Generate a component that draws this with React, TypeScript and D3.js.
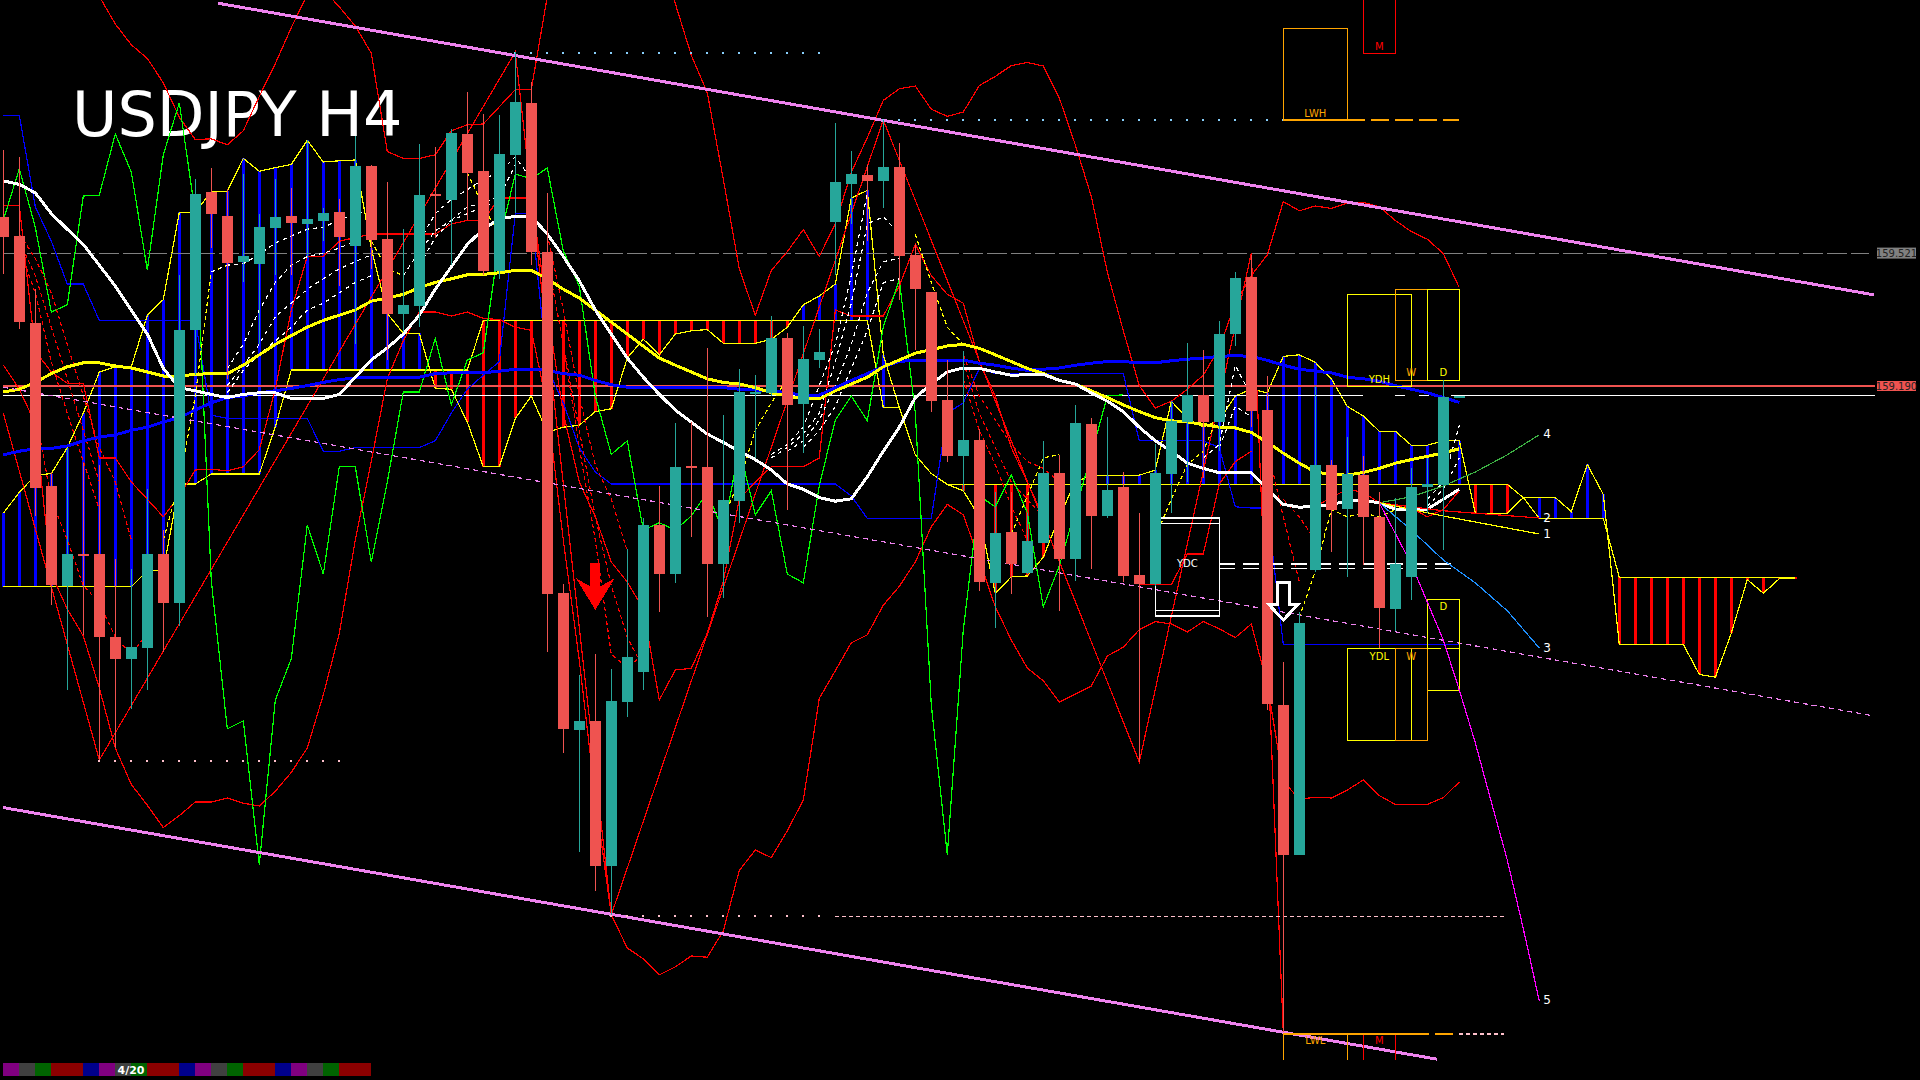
import React from "react";
import * as d3 from "d3";

const WIDTH = 1920;
const HEIGHT = 1080;

// candles, H4, left to right
const opens = [
  159.613, 159.565, 159.347, 158.94, 158.689, 158.77, 158.77, 158.562, 158.507, 158.535,
  158.77, 158.648, 159.33, 159.674, 159.615, 159.499, 159.494, 159.586, 159.615, 159.595,
  159.603, 159.625, 159.54, 159.74, 159.558, 159.37, 159.39, 159.67, 159.655, 159.82,
  159.728, 159.478, 159.768, 159.898, 159.525, 158.673, 158.33, 158.353, 157.99, 158.4,
  158.474, 158.843, 158.72, 158.99, 158.988, 158.745, 158.903, 159.173, 159.173, 159.31,
  159.145, 159.255, 159.6, 159.695, 159.718, 159.703, 159.738, 159.518, 159.425, 159.155,
  159.015, 159.055, 158.698, 158.825, 158.723, 158.798, 158.973, 158.758, 159.095, 158.866,
  158.938, 158.718, 158.695, 158.971, 159.101, 159.168, 159.101, 159.32, 159.463, 159.13,
  158.393, 158.018, 158.73, 158.993, 158.883, 158.968, 158.863, 158.633, 158.713, 158.938,
  158.943, 159.163,
];
const highs = [
  159.78, 159.762, 159.432, 158.975, 159.035, 158.998, 158.993, 158.758, 158.733, 158.933,
  158.83, 159.468, 159.708, 159.735, 159.683, 159.72, 159.621, 159.708, 159.685, 159.805,
  159.635, 159.658, 159.815, 159.743, 159.7, 159.583, 159.795, 159.788, 159.833, 159.925,
  159.87, 159.868, 160.025, 159.95, 159.673, 158.695, 158.468, 158.52, 158.483, 158.783,
  158.86, 158.941, 159.098, 159.1, 159.285, 159.118, 159.233, 159.218, 159.365, 159.323,
  159.34, 159.333, 159.848, 159.778, 159.743, 159.854, 159.798, 159.544, 159.425, 159.255,
  159.278, 159.083, 158.925, 158.925, 158.873, 159.053, 159.018, 159.143, 159.11, 159.113,
  158.975, 158.873, 159.045, 159.153, 159.298, 159.279, 159.353, 159.475, 159.518, 159.215,
  158.5, 158.625, 159.19, 159.005, 159.063, 159.015, 158.925, 158.91, 158.985, 159.01,
  159.204, 159.166,
];
const lows = [
  159.47, 159.332, 158.865, 158.642, 158.43, 158.568, 158.255, 158.285, 158.383, 158.43,
  158.525, 158.59, 159.218, 159.535, 159.208, 159.45, 159.295, 159.468, 159.468, 159.51,
  159.553, 159.44, 159.295, 159.483, 159.255, 159.325, 159.338, 159.56, 159.493, 159.605,
  159.468, 159.458, 159.623, 159.493, 158.525, 158.273, 158.025, 157.928, 157.868, 158.363,
  158.43, 158.625, 158.698, 158.813, 158.613, 158.66, 158.848, 159.01, 159.165, 158.88,
  159.023, 159.235, 159.468, 159.595, 159.553, 159.635, 159.405, 159.279, 159.126, 158.999,
  158.928, 158.678, 158.585, 158.67, 158.72, 158.798, 158.628, 158.703, 158.733, 158.861,
  158.7, 158.25, 158.69, 158.873, 158.95, 158.96, 159.028, 159.29, 159.088, 158.38,
  157.575, 158.018, 158.725, 158.775, 158.713, 158.743, 158.535, 158.578, 158.655, 158.873,
  158.78, 159.163,
];
const closes = [
  159.563, 159.35, 158.935, 158.692, 158.77, 158.766, 158.562, 158.507, 158.537, 158.77,
  158.648, 159.33, 159.67, 159.62, 159.498, 159.514, 159.588, 159.613, 159.598, 159.608,
  159.623, 159.563, 159.74, 159.555, 159.37, 159.393, 159.668, 159.665, 159.823, 159.723,
  159.478, 159.77, 159.9, 159.525, 158.67, 158.333, 158.353, 157.99, 158.403, 158.513,
  158.843, 158.72, 158.988, 158.985, 158.745, 158.905, 159.175, 159.175, 159.31, 159.143,
  159.258, 159.275, 159.7, 159.72, 159.703, 159.738, 159.516, 159.433, 159.153, 159.015,
  159.055, 158.7, 158.823, 158.745, 158.803, 158.973, 158.758, 159.098, 158.866, 158.93,
  158.715, 158.695, 158.973, 159.103, 159.168, 159.101, 159.32, 159.46, 159.128, 158.396,
  158.018, 158.598, 158.993, 158.88, 158.97, 158.863, 158.635, 158.745, 158.938, 158.945,
  159.163, 159.166,
];

// moving averages
const whiteMa = [
  159.703, 159.694, 159.673, 159.621, 159.582, 159.544, 159.492, 159.44, 159.38, 159.32,
  159.234, 159.186, 159.178, 159.169, 159.161, 159.169, 159.173, 159.173, 159.159, 159.159,
  159.159, 159.169, 159.212, 159.255, 159.285, 159.32, 159.367, 159.432, 159.488, 159.544,
  159.582, 159.608, 159.614, 159.614, 159.57, 159.514, 159.453, 159.38, 159.32, 159.26,
  159.212, 159.169, 159.13, 159.1, 159.07, 159.049, 159.027, 159.006, 158.98, 158.945,
  158.932, 158.911, 158.902, 158.908, 158.963, 159.027, 159.087, 159.161, 159.195, 159.225,
  159.235, 159.234, 159.225, 159.217, 159.218, 159.219, 159.204, 159.195, 159.173, 159.152,
  159.126, 159.087, 159.053, 159.027, 158.997, 158.984, 158.973, 158.973, 158.973, 158.932,
  158.894, 158.887, 158.889, 158.894, 158.902, 158.904, 158.898, 158.882, 158.879, 158.882,
  158.907, 158.932,
];
const yellowMa = [
  159.175, 159.182, 159.199, 159.221, 159.238, 159.248, 159.248, 159.24, 159.235, 159.225,
  159.215, 159.215, 159.219, 159.221, 159.221, 159.242, 159.268, 159.294, 159.316, 159.337,
  159.354, 159.367, 159.38, 159.402, 159.41, 159.419, 159.436, 159.449, 159.458, 159.468,
  159.469, 159.473, 159.479, 159.479, 159.458, 159.432, 159.41, 159.38, 159.35, 159.32,
  159.29, 159.26, 159.242, 159.225, 159.208, 159.199, 159.195, 159.186, 159.173, 159.165,
  159.158, 159.158, 159.178, 159.195, 159.212, 159.238, 159.255, 159.272, 159.281, 159.29,
  159.294, 159.284, 159.268, 159.251, 159.234, 159.221, 159.204, 159.195, 159.178, 159.161,
  159.143, 159.126, 159.111, 159.103, 159.1, 159.094, 159.087, 159.085, 159.074, 159.049,
  159.022, 158.997, 158.975, 158.969, 158.967, 158.974, 158.984, 158.997, 159.006, 159.014,
  159.023, 159.033,
];
const blueMa = [
  159.018, 159.027, 159.033, 159.034, 159.04, 159.053, 159.062, 159.068, 159.079, 159.087,
  159.1, 159.111, 159.13, 159.148, 159.161, 159.165, 159.173, 159.178, 159.184, 159.191,
  159.199, 159.206, 159.21, 159.212, 159.212, 159.212, 159.212, 159.221, 159.223, 159.223,
  159.223, 159.227, 159.232, 159.232, 159.229, 159.221, 159.217, 159.204, 159.193, 159.187,
  159.186, 159.186, 159.186, 159.186, 159.186, 159.186, 159.182, 159.18, 159.178, 159.173,
  159.167, 159.167, 159.186, 159.204, 159.221, 159.238, 159.251, 159.255, 159.255, 159.255,
  159.255, 159.247, 159.242, 159.235, 159.229, 159.232, 159.235, 159.242, 159.247, 159.251,
  159.251, 159.248, 159.248, 159.253, 159.257, 159.26, 159.264, 159.266, 159.264, 159.254,
  159.242, 159.232, 159.227, 159.223, 159.212, 159.208, 159.202, 159.191, 159.182, 159.173,
  159.161, 159.149,
];

// bollinger bands, upper one starts at bar 6 (it runs off the top before that)
const upperBand = [
  160.164, 160.095, 160.043, 160.009,
  159.948, 159.862, 159.806, 159.808, 159.793, 159.828, 159.914, 159.996, 160.086, 160.168,
  160.181, 160.138, 160.09, 160.022, 159.776, 159.759, 159.759, 159.768, 159.828, 159.843,
  159.845, 159.888, 159.931, 159.931, 160.164, 160.284, 160.284, 160.284, 160.284, 160.284,
  160.284, 160.284, 160.146, 160.017, 159.923, 159.707, 159.483, 159.367, 159.479, 159.526,
  159.581, 159.514, 159.595, 159.724, 159.811, 159.904, 159.933, 159.94, 159.882, 159.864,
  159.875, 159.941, 159.964, 159.991, 159.999, 159.99, 159.91, 159.793, 159.664, 159.475,
  159.328, 159.191, 159.135, 159.152, 159.182, 159.217, 159.285, 159.397, 159.466, 159.518,
  159.651, 159.628, 159.64, 159.634, 159.647, 159.649, 159.638, 159.604, 159.576, 159.557,
  159.521, 159.436,
];
const lowerBand = [
  159.243, 159.182, 159.096, 158.72, 158.632, 158.565, 158.435, 158.285, 158.194, 158.142,
  158.086, 158.116, 158.15, 158.15, 158.16, 158.147, 158.14, 158.177, 158.224, 158.285,
  158.418, 158.572, 158.805, 159.002, 159.208, 159.303, 159.375, 159.375, 159.365, 159.375,
  159.359, 159.356, 159.337, 159.329, 159.14, 158.805, 158.504, 158.16, 157.868, 157.785,
  157.758, 157.718, 157.738, 157.765, 157.762, 157.828, 157.979, 158.03, 158.011, 158.078,
  158.155, 158.409, 158.478, 158.548, 158.568, 158.642, 158.689, 158.75, 158.838, 158.894,
  158.868, 158.755, 158.638, 158.555, 158.485, 158.453, 158.4, 158.42, 158.44, 158.515,
  158.537, 158.581, 158.601, 158.595, 158.575, 158.601, 158.583, 158.561, 158.595, 158.444,
  158.202, 158.157, 158.162, 158.16, 158.18, 158.205, 158.166, 158.144, 158.144, 158.144,
  158.161, 158.2,
];

// zigzag swing points
const zigzagBars = [0, 6, 32, 38, 55, 71, 78, 80];
const zigzagPrices = [159.122, 158.255, 160.025, 157.868, 159.855, 158.25, 159.522, 157.575];

// ichimoku
const chikou = [
  159.605, 159.733, 159.587, 159.375, 159.393, 159.665, 159.667, 159.82, 159.725, 159.48,
  159.768, 159.898, 159.621, 158.703, 158.333, 158.353, 157.993, 158.405, 158.508, 158.843,
  158.72, 158.988, 158.988, 158.75, 158.95, 159.175, 159.175, 159.309, 159.143, 159.255,
  159.273, 159.553, 159.72, 159.708, 159.735, 159.528, 159.44, 159.165, 159.019, 159.053,
  158.83, 158.848, 158.83, 158.865, 158.925, 158.825, 159.035, 158.868, 158.928, 158.72,
  158.698, 158.941, 159.105, 159.165, 159.103, 159.338, 159.455, 159.123, 158.393, 158.018,
  158.58, 158.915, 158.888, 158.968, 158.873, 158.638, 158.74, 158.88, 159.018, 159.165,
  159.168,
];
const spanA = [
  158.872, 158.924, 158.967, 158.971, 159.036, 159.122, 159.225, 159.238, 159.238, 159.367,
  159.406, 159.624, 159.624, 159.676, 159.677, 159.759, 159.727, 159.736, 159.744, 159.804,
  159.75, 159.753, 159.755, 159.535, 159.371, 159.322, 159.322, 159.184, 159.182, 159.1,
  158.988, 158.988, 159.109, 159.165, 159.074, 159.087, 159.092, 159.126, 159.133, 159.26,
  159.307, 159.268, 159.32, 159.328, 159.331, 159.297, 159.297, 159.297, 159.307, 159.337,
  159.393, 159.415, 159.445, 159.66, 159.679, 159.268, 159.136, 159.018, 158.971, 158.944,
  158.928, 158.863, 158.672, 158.713, 158.715, 158.762, 158.863, 158.95, 158.967, 158.967,
  158.967, 158.967, 158.98, 159.152, 159.109, 159.087, 159.105, 159.165, 159.182, 159.173,
  159.264, 159.268, 159.249, 159.208, 159.139, 159.115, 159.077, 159.077, 159.042, 159.042,
  159.053, 159.053, 158.872, 158.872, 158.872, 158.911, 158.911, 158.911, 158.876, 158.994,
  158.919, 158.544, 158.544, 158.544, 158.544, 158.544, 158.469, 158.462, 158.572, 158.706,
  158.672, 158.708, 158.708,
];
const spanB = [
  158.688, 158.688, 158.688, 158.688, 158.688, 158.688, 158.688, 158.688, 158.688, 158.728,
  158.728, 158.945, 158.945, 158.97, 158.97, 158.97, 158.97, 159.088, 159.23, 159.23,
  159.23, 159.23, 159.23, 159.23, 159.23, 159.23, 159.23, 159.23, 159.23, 159.23,
  159.354, 159.354, 159.354, 159.354, 159.354, 159.354, 159.354, 159.354, 159.354, 159.354,
  159.354, 159.354, 159.354, 159.354, 159.354, 159.354, 159.354, 159.354, 159.354, 159.354,
  159.354, 159.354, 159.354, 159.354, 159.354, 159.136, 159.136, 159.018, 158.971, 158.944,
  158.944, 158.944, 158.944, 158.944, 158.944, 158.944, 158.944, 158.944, 158.944, 158.944,
  158.944, 158.944, 158.944, 158.944, 158.944, 158.944, 158.944, 158.944, 158.944, 158.944,
  158.944, 158.944, 158.944, 158.944, 158.944, 158.944, 158.944, 158.944, 158.944, 158.944,
  158.944, 158.944, 158.944, 158.944, 158.944, 158.911, 158.859, 158.859, 158.859, 158.859,
  158.859, 158.712, 158.712, 158.712, 158.712, 158.712, 158.712, 158.712, 158.712, 158.712,
  158.712, 158.712, 158.712,
];
const kijun = [
  159.867, 159.867, 159.638, 159.552, 159.445, 159.445, 159.354, 159.354, 159.354, 159.354,
  159.354, 159.354, 159.354, 159.117, 159.109, 159.109, 159.109, 159.109, 159.109, 159.109,
  159.027, 159.027, 159.036, 159.036, 159.036, 159.036, 159.036, 159.053, 159.122, 159.182,
  159.217, 159.251, 159.621, 159.621, 159.234, 159.148, 159.036, 158.975, 158.945, 158.945,
  158.945, 158.945, 158.945, 158.945, 158.945, 158.945, 158.945, 158.945, 158.945, 158.945,
  158.945, 158.945, 158.945, 158.915, 158.859, 158.859, 158.859, 158.859, 158.859, 159.122,
  159.148, 159.234, 159.221, 159.221, 159.221, 159.221, 159.221, 159.221, 159.221, 159.221,
  159.221, 159.053, 159.053, 159.053, 159.053, 159.053, 159.036, 158.888, 158.885, 158.885,
  158.544, 158.544, 158.544, 158.544, 158.544, 158.544, 158.544, 158.544, 158.544, 158.544,
  158.544, 158.544,
];
const tenkan = [
  159.641, 159.641, 159.277, 159.225, 159.197, 159.197, 159.01, 159.01, 158.95, 158.907,
  158.863, 158.915, 158.98, 158.982, 158.978, 158.988, 159.031, 159.182, 159.38, 159.514,
  159.514, 159.552, 159.561, 159.57, 159.57, 159.57, 159.57, 159.57, 159.595, 159.604,
  159.604, 159.66, 159.66, 159.66, 159.38, 159.122, 158.95, 158.863, 158.75, 158.7,
  158.633, 158.405, 158.48, 158.484, 158.572, 158.702, 158.907, 158.95, 158.988, 158.988,
  158.988, 159.01, 159.38, 159.365, 159.365, 159.365, 159.44, 159.544, 159.466, 159.419,
  159.397, 159.251, 159.165, 159.036, 158.95, 158.863, null, null, null, null,
  null, 158.693, 158.693, 158.693, 158.77, 158.77, 158.945, 159.001, 159.027, null,
  null, 158.889, 158.889, 158.911, 158.932, 158.924, 158.898, 158.889, 158.885, 158.863,
  158.881, 158.928,
];

// ma ribbon, dashed
const whiteRibbons = [
  { start: 13, values: [159.475, 159.492, 159.496, 159.518, 159.548, 159.565, 159.582, 159.587, 159.604, 159.621, 159.63] },
  { start: 14, values: [159.234, 159.294, 159.38, 159.449, 159.492, 159.514, 159.522, 159.535, 159.552] },
  { start: 14, values: [159.191, 159.242, 159.294, 159.363, 159.397, 159.432, 159.458, 159.483, 159.501, 159.518] },
  { start: 14, values: [159.173, 159.229, 159.268, 159.303, 159.337, 159.38, 159.397, 159.423, 159.449, 159.466] },
  { start: 26, values: [159.552, 159.621, 159.656, 159.681, 159.707, 159.724, 159.763, 159.707] },
  { start: 26, values: [159.492, 159.561, 159.604, 159.638, 159.647, 159.664, 159.742] },
  { start: 25, values: [159.466, 159.526, 159.578, 159.604, 159.621, 159.638, 159.651] },
  { start: 48, values: [159.01, 159.036, 159.07, 159.122, 159.251, 159.397, 159.595, 159.613, 159.57] },
  { start: 48, values: [159.019, 159.044, 159.087, 159.191, 159.294, 159.466, 159.673] },
  { start: 49, values: [159.027, 159.053, 159.105, 159.191, 159.294, 159.423, 159.501, 159.509] },
  { start: 50, values: [159.036, 159.079, 159.139, 159.234, 159.328, 159.449, 159.458] },
  { start: 75, values: [159.01, 159.044, 159.242, 159.165] },
  { start: 76, values: [159.036, 159.139, 159.113] },
  { start: 89, values: [158.907, 158.95, 159.092] },
  { start: 89, values: [158.889, 158.932, 159.01] },
];
const yellowRibbons = [
  { start: 10, values: [158.805, 158.95, 159.165, 159.475, 159.492] },
  { start: 23, values: [159.552, 159.483, 159.466] },
  { start: 29, values: [159.724, 159.638, 159.57] },
  { start: 45, values: [158.863, 158.95, 159.079, 159.148, 159.208] },
  { start: 57, values: [159.57, 159.449, 159.337, 159.294] },
  { start: 63, values: [158.82, 158.915, 159.01, 159.019] },
  { start: 72, values: [158.812, 158.907, 158.993, 159.027, 159.122] },
  { start: 81, values: [158.611, 158.727, 158.881, 158.863, 158.872, 158.863, 158.881] },
];
const redRibbons = [
  { start: 1, values: [159.57, 159.509, 159.423, 159.294, 159.165, 159.036, 158.95, 158.805] },
  { start: 1, values: [159.552, 159.466, 159.337, 159.208, 159.079, 158.95] },
  { start: 1, values: [159.535, 159.423, 159.251, 159.122, 159.001, 158.881] },
  { start: 2, values: [159.122, 158.907, 158.805, 158.691, 158.648, 158.562, 158.519, 158.571] },
  { start: 34, values: [159.57, 159.38, 159.165, 158.993, 158.907, 158.777] },
  { start: 34, values: [159.509, 159.294, 159.079, 158.863, 158.691, 158.562, 158.485] },
  { start: 35, values: [159.294, 159.036, 158.805, 158.519, 158.486, 158.519] },
  { start: 60, values: [159.268, 159.165, 159.105, 159.044, 159.001, 158.984, 158.95] },
  { start: 60, values: [159.251, 159.122, 159.036, 158.95, 158.907, 158.863] },
  { start: 60, values: [159.208, 159.079, 158.993, 158.889, 158.805] },
  { start: 79, values: [159.036, 158.863, 158.7] },
  { start: 80, values: [158.907, 158.863, 158.805] },
];

// projected paths, labelled 1 to 5
const forecasts = [
  { label: "4", color: "#3cb043", bars: [86, 88, 90, 92, 94, 96], prices: [158.898, 158.913, 158.94, 158.975, 159.018, 159.068] },
  { label: "2", color: "#ff0000", bars: [86, 90, 96], prices: [158.898, 158.878, 158.86] },
  { label: "1", color: "#ffff00", bars: [86, 90, 96], prices: [158.898, 158.865, 158.82] },
  { label: "3", color: "#1e90ff", bars: [86, 88, 90, 92, 94, 96], prices: [158.898, 158.83, 158.755, 158.698, 158.628, 158.535] },
  { label: "5", color: "#ff00ff", bars: [86, 88, 90, 91, 92, 93, 94, 95, 96], prices: [158.898, 158.745, 158.555, 158.43, 158.298, 158.15, 158.005, 157.833, 157.653] },
];

const channelUpper = { bars: [13.42, 116.9], prices: [160.147, 159.418] };
const channelLower = { bars: [0, 89.6], prices: [158.136, 157.507] };
const channelMiddle = { bars: [0, 116.8], prices: [159.187, 158.366] };

const GREY_LEVEL = 159.521;
const RED_LEVEL = 159.19;
const WHITE_LEVEL = 159.166;

const dotRows = [
  { price: 160.023, from: 32, to: 51, color: "#87cefa" },
  { price: 159.855, from: 55, to: 80, color: "#87cefa" },
  { price: 158.252, from: 6, to: 21, color: "#ffc0cb" },
  { price: 157.865, from: 38, to: 51, color: "#ffc0cb" },
];

const boxes = [
  { label: "LWH", color: "#ffa500", left: 80, right: 84, top: 160.084, bottom: 159.855, labelPrice: 159.87 },
  { label: "M", color: "#ff0000", left: 85, right: 87, top: 160.2, bottom: 160.022, labelPrice: 160.037 },
  { label: "YDH", color: "#ffff00", left: 84, right: 88, top: 159.419, bottom: 159.189, labelPrice: 159.205 },
  { label: "W", color: "#ffa500", left: 87, right: 89, top: 159.432, bottom: 159.203, labelPrice: 159.222 },
  { label: "D", color: "#ffff00", left: 89, right: 91, top: 159.432, bottom: 159.203, labelPrice: 159.222 },
  { label: "D", color: "#ffff00", left: 89, right: 91, top: 158.657, bottom: 158.428, labelPrice: 158.637 },
  { label: "YDL", color: "#ffff00", left: 84, right: 88, top: 158.534, bottom: 158.304, labelPrice: 158.513 },
  { label: "W", color: "#ffa500", left: 87, right: 89, top: 158.534, bottom: 158.304, labelPrice: 158.513 },
  { label: "YDC", color: "#ffffff", left: 72, right: 76, top: 158.86, bottom: 158.615, labelPrice: 158.745 },
  { label: "LWL", color: "#ffa500", left: 80, right: 84, top: 157.57, bottom: 157.505, labelPrice: 157.552, openBottom: true },
  { label: "M", color: "#ff0000", left: 85, right: 87, top: 157.57, bottom: 157.505, labelPrice: 157.552, openBottom: true },
];

const stripColors = [
  "#800080", "#404040", "#006400", "#8b0000", "#8b0000", "#00008b", "#800080", "#404040",
  "#006400", "#8b0000", "#8b0000", "#00008b", "#800080", "#404040", "#006400", "#8b0000",
  "#8b0000", "#00008b", "#800080", "#404040", "#006400", "#8b0000", "#8b0000",
];

const x = d3.scaleLinear().domain([0, 1]).range([3.3, 19.3]);
const y = d3.scaleLinear().domain([160.155, 157.455]).range([0, HEIGHT]);

const seriesPath = (start: number, values: (number | null)[]) =>
  d3
    .line<number | null>()
    .defined((v) => v !== null)
    .x((_, i) => x(start + i))
    .y((v) => y(v as number))(values) as string;

const pointsPath = (bars: number[], prices: number[]) =>
  d3
    .line<number>()
    .x((b) => x(b))
    .y((_, i) => y(prices[i]))(bars) as string;

const App = () => {
  const redArrow = d3.path();
  redArrow.moveTo(-5, -47);
  redArrow.lineTo(5, -47);
  redArrow.lineTo(5, -23.5);
  redArrow.lineTo(19.5, -32);
  redArrow.lineTo(0, 0);
  redArrow.lineTo(-19.5, -32);
  redArrow.lineTo(-5, -23.5);
  redArrow.closePath();

  const whiteArrow = d3.path();
  whiteArrow.moveTo(-6, -38);
  whiteArrow.lineTo(6, -38);
  whiteArrow.lineTo(6, -16);
  whiteArrow.lineTo(15, -16);
  whiteArrow.lineTo(0, 0);
  whiteArrow.lineTo(-15, -16);
  whiteArrow.lineTo(-6, -16);
  whiteArrow.closePath();

  return (
    <svg
      width={WIDTH}
      height={HEIGHT}
      style={{ position: "fixed", left: 0, top: 0, background: "#000" }}
      fontFamily="'DejaVu Sans', sans-serif"
    >
      <text x={72} y={136} fill="#fff" fontSize={62}>
        USDJPY H4
      </text>

      <g shapeRendering="crispEdges" fill="none" strokeWidth={1.2}>
        {/* kumo histogram */}
        {spanA.map((a, i) => (
          <line
            key={"k" + i}
            x1={x(i)}
            x2={x(i)}
            y1={y(a)}
            y2={y(spanB[i])}
            stroke={a >= spanB[i] ? "#0000ff" : "#ff0000"}
            strokeWidth={2.4}
          />
        ))}
        <path d={seriesPath(0, spanA)} stroke="#ffff00" />
        <path d={seriesPath(0, spanB)} stroke="#ffff00" />

        {/* levels */}
        <line x1={x(0)} x2={x(116.6)} y1={y(GREY_LEVEL)} y2={y(GREY_LEVEL)} stroke="#808080" strokeDasharray="20 4" />
        <line x1={x(0)} x2={x(117)} y1={y(RED_LEVEL)} y2={y(RED_LEVEL)} stroke="#ef5350" />
        <line x1={x(0)} x2={x(85)} y1={y(WHITE_LEVEL)} y2={y(WHITE_LEVEL)} stroke="#fff" />
        <line x1={x(87)} x2={x(87.6)} y1={y(WHITE_LEVEL)} y2={y(WHITE_LEVEL)} stroke="#fff" />
        <line x1={x(88.5)} x2={x(89.1)} y1={y(WHITE_LEVEL)} y2={y(WHITE_LEVEL)} stroke="#fff" />
        <line x1={x(90.5)} x2={x(117)} y1={y(WHITE_LEVEL)} y2={y(WHITE_LEVEL)} stroke="#fff" />

        <path d={seriesPath(0, kijun)} stroke="#0000ff" />
        <path d={seriesPath(0, tenkan)} stroke="#ff0000" />
        <path d={seriesPath(6, upperBand)} stroke="#ff0000" />
        <path d={seriesPath(0, lowerBand)} stroke="#ff0000" />
        <path d={pointsPath(zigzagBars, zigzagPrices)} stroke="#ff0000" />
        <path d={seriesPath(0, chikou)} stroke="#00ff00" />

        {redRibbons.map((r, i) => (
          <path key={"rr" + i} d={seriesPath(r.start, r.values)} stroke="#ff0000" strokeDasharray="4 3" />
        ))}
        {yellowRibbons.map((r, i) => (
          <path key={"yr" + i} d={seriesPath(r.start, r.values)} stroke="#ffff00" strokeDasharray="4 3" />
        ))}
        {whiteRibbons.map((r, i) => (
          <path key={"wr" + i} d={seriesPath(r.start, r.values)} stroke="#fff" strokeDasharray="4 4" />
        ))}

        <path d={seriesPath(0, blueMa)} stroke="#0000ff" strokeWidth={3} />
        <path d={seriesPath(0, yellowMa)} stroke="#ffff00" strokeWidth={3} />
        <path d={seriesPath(0, whiteMa)} stroke="#fff" strokeWidth={3} />

        {/* channel */}
        <path d={pointsPath(channelUpper.bars, channelUpper.prices)} stroke="#ee82ee" strokeWidth={3} />
        <path d={pointsPath(channelLower.bars, channelLower.prices)} stroke="#ee82ee" strokeWidth={3} />
        <path d={pointsPath(channelMiddle.bars, channelMiddle.prices)} stroke="#ee82ee" strokeDasharray="5 4" />

        {/* dotted swing rows */}
        {dotRows.map((row) =>
          d3.range(row.from, row.to + 1).map((b) => (
            <rect key={row.price + "-" + b} x={x(b) - 1} y={y(row.price) - 1} width={2} height={2} fill={row.color} />
          ))
        )}
        <line x1={x(52)} x2={x(93.8)} y1={y(157.864)} y2={y(157.864)} stroke="#ffc0cb" strokeDasharray="4 3" />
        <line x1={x(91)} x2={x(93.8)} y1={y(157.57)} y2={y(157.57)} stroke="#ffc0cb" strokeDasharray="4 3" />

        {/* period boxes */}
        {boxes.map((b, i) =>
          b.openBottom ? (
            <path
              key={"b" + i}
              d={
                d3
                  .line<number[]>()
                  .x((p) => x(p[0]))
                  .y((p) => y(p[1]))([
                  [b.left, b.bottom],
                  [b.left, b.top],
                  [b.right, b.top],
                  [b.right, b.bottom],
                ]) as string
              }
              stroke={b.color}
            />
          ) : (
            <rect
              key={"b" + i}
              x={x(b.left)}
              y={y(b.top)}
              width={x(b.right) - x(b.left)}
              height={y(b.bottom) - y(b.top)}
              stroke={b.color}
            />
          )
        )}
        <rect x={x(72)} y={y(158.846)} width={x(76) - x(72)} height={y(158.629) - y(158.846)} stroke="#fff" />
        <line x1={x(84)} x2={x(91)} y1={y(159.855)} y2={y(159.855)} stroke="#ffa500" strokeDasharray="18 6" />
        <line x1={x(84)} x2={x(88)} y1={y(157.57)} y2={y(157.57)} stroke="#ffa500" />
        <line x1={x(88)} x2={x(91)} y1={y(157.57)} y2={y(157.57)} stroke="#ffa500" strokeDasharray="18 6" />
        <line x1={x(89)} x2={x(91)} y1={y(158.534)} y2={y(158.534)} stroke="#ffff00" strokeDasharray="14 6" />
        <line x1={x(76)} x2={x(91)} y1={y(158.745)} y2={y(158.745)} stroke="#fff" strokeDasharray="16 8" />
        <line x1={x(76)} x2={x(91)} y1={y(158.733)} y2={y(158.733)} stroke="#fff" strokeDasharray="16 8" />

        {forecasts.map((f) => (
          <path key={f.label} d={pointsPath(f.bars, f.prices)} stroke={f.color} />
        ))}

        {/* candles */}
        {opens.map((open, i) => {
          const color = closes[i] >= open ? "#26a69a" : "#ef5350";
          const top = y(Math.max(open, closes[i]));
          const bottom = y(Math.min(open, closes[i]));
          return (
            <g key={"c" + i}>
              <line x1={x(i)} x2={x(i)} y1={y(highs[i])} y2={y(lows[i])} stroke={color} />
              <rect x={x(i) - 5.5} y={top} width={11} height={Math.max(bottom - top, 2)} fill={color} />
            </g>
          );
        })}

        <path d={redArrow.toString()} transform={`translate(${x(37)},${y(158.63)})`} fill="#ff0000" />
        <path d={whiteArrow.toString()} transform={`translate(${x(80)},${y(158.605)})`} stroke="#fff" strokeWidth={3} />

        {/* status strip */}
        {stripColors.map((c, i) => (
          <rect key={"s" + i} x={x(i) - 0.3} y={1063} width={16} height={13} fill={c} />
        ))}
      </g>

      <text x={131} y={1074} fill="#fff" fontSize={11} fontWeight="bold" textAnchor="middle">
        4/20
      </text>

      {boxes.map((b, i) => (
        <text
          key={"bl" + i}
          x={(x(b.left) + x(b.right)) / 2}
          y={y(b.labelPrice)}
          fill={b.color}
          fontSize={10}
          textAnchor="middle"
          dominantBaseline="middle"
        >
          {b.label}
        </text>
      ))}

      {forecasts.map((f) => (
        <text
          key={"fl" + f.label}
          x={x(96) + 4}
          y={y(f.prices[f.prices.length - 1])}
          fill="#fff"
          fontSize={12}
          dominantBaseline="middle"
        >
          {f.label}
        </text>
      ))}

      <rect x={1877} y={y(GREY_LEVEL) - 6} width={39} height={11} fill="#808080" />
      <text x={1896.5} y={y(GREY_LEVEL) + 3} fontSize={10} fill="#222" textAnchor="middle">
        {GREY_LEVEL.toFixed(3)}
      </text>
      <rect x={1877} y={y(RED_LEVEL) - 5} width={39} height={10} fill="#ef5350" />
      <text x={1896.5} y={y(RED_LEVEL) + 4} fontSize={10} fill="#222" textAnchor="middle">
        {RED_LEVEL.toFixed(3)}
      </text>
    </svg>
  );
};

export default App;
